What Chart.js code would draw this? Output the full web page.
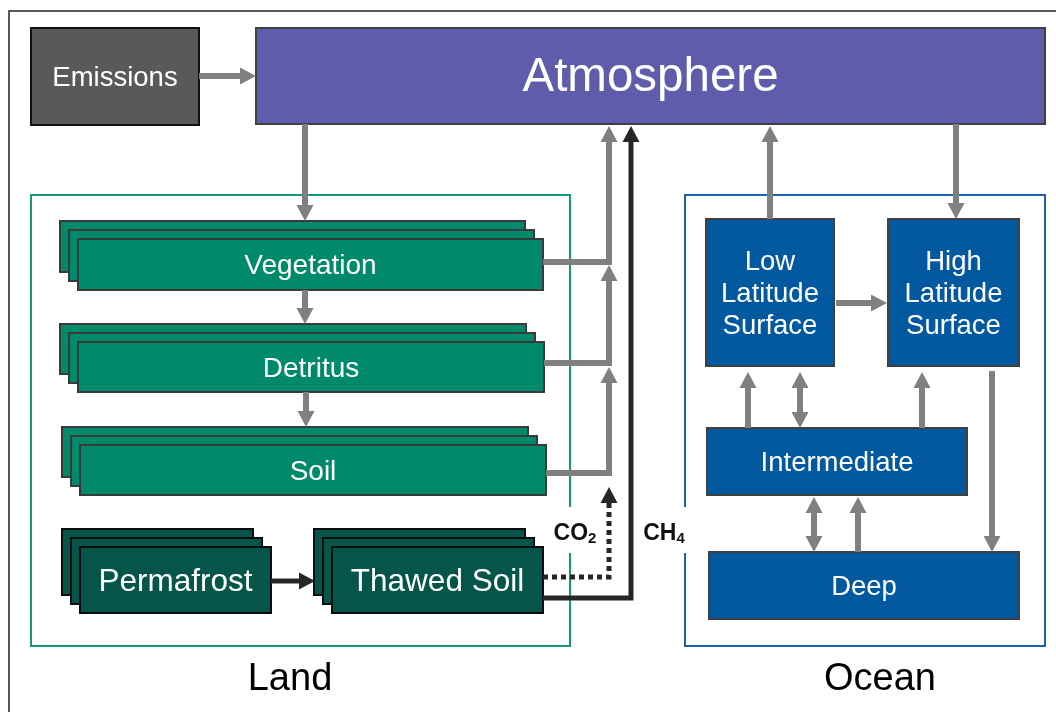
<!DOCTYPE html>
<html>
<head>
<meta charset="utf-8">
<script src="https://cdn.jsdelivr.net/npm/chart.js@4/dist/chart.umd.min.js"></script>
<style>
  body { margin: 0; background: #fff; }
  canvas { display: block; }
</style>
</head>
<body>
<canvas id="c1" width="1056" height="712"></canvas>
<script>
// boxes of the carbon cycle model, in diagram units (x right, y down)
var nodeNames = ["Emissions", "Atmosphere", "Vegetation", "Detritus", "Soil", "Permafrost", "Thawed Soil",
                 "Low\nLatitude\nSurface", "High\nLatitude\nSurface", "Intermediate", "Deep"];
var nodeKind = ["source", "atm", "land", "land", "land", "frost", "frost", "ocean", "ocean", "ocean", "ocean"];
var nodeLeft = [31, 256, 78, 78, 80, 80, 332, 706, 888, 707, 709];
var nodeTop = [28, 28, 239, 342, 445, 547, 547, 219, 219, 428, 552];
var nodeRight = [199, 1045, 543, 544, 546, 271, 543, 834, 1019, 967, 1019];
var nodeBottom = [125, 124, 290, 392, 495, 613, 613, 366, 366, 495, 619];
var nodeLayers = [1, 1, 3, 3, 3, 3, 3, 1, 1, 1, 1];

// land / ocean groups
var groupNames = ["Land", "Ocean"];
var groupLeft = [31, 685];
var groupTop = [195, 195];
var groupRight = [570, 1045];
var groupBottom = [646, 646];
var groupLabelX = [290, 880];
var groupLabelY = [680, 680];

// fluxes between boxes
var flowPaths = [
    [[199, 76], [256, 76]],
    [[305, 124], [305, 221]],
    [[305, 290], [305, 324]],
    [[306, 392], [306, 427]],
    [[543, 262], [609, 262], [609, 126]],
    [[544, 363], [609, 363], [609, 265]],
    [[546, 473], [609, 473], [609, 367]],
    [[543, 577], [609, 577], [609, 487]],
    [[543, 598], [631, 598], [631, 126]],
    [[271, 581], [315, 581]],
    [[770, 219], [770, 126]],
    [[956, 124], [956, 219]],
    [[836, 303], [887, 303]],
    [[748, 428], [748, 372]],
    [[800, 428], [800, 372]],
    [[922, 428], [922, 372]],
    [[992, 371], [992, 552]],
    [[814, 497], [814, 552]],
    [[858, 552], [858, 497]]
];
var flowKind = ["gray", "gray", "gray", "gray", "gray", "gray", "gray", "dotted", "black", "black",
                "gray", "gray", "gray", "gray", "gray", "gray", "gray", "gray", "gray"];
var flowHeads = ["end", "end", "end", "end", "end", "end", "end", "end", "end", "end",
                 "end", "end", "end", "end", "both", "end", "end", "both", "end"];

// gas labels
var gasNames = ["CO", "CH"];
var gasSub = ["2", "4"];
var gasX = [575, 664];
var gasY = [532, 532];

var fillOf = {source: "#595959", atm: "#5f5cab", land: "#008a6c", frost: "#06554a", ocean: "#03599f"};
var edgeOf = {source: "#111111", atm: "#404040", land: "#3a3a3a", frost: "#0d0d0d", ocean: "#404040"};
var fontOf = {source: 27.5, atm: 47.5, land: 28, frost: 31.5, ocean: 27.5};
var groupColors = ["#139a7d", "#1a62ad"];
var FONT = "'Liberation Sans', Arial, sans-serif";

function centers() {
    let pts = [];
    for(let i=0; i<nodeNames.length; i++)
        pts.push({x: (nodeLeft[i] + nodeRight[i]) / 2, y: (nodeTop[i] + nodeBottom[i]) / 2});
    return pts;
}

var diagram = {
    id: 'diagram',
    beforeDraw(chart) {
        let ctx = chart.ctx;
        ctx.save();
        ctx.fillStyle = "#ffffff";
        ctx.fillRect(0, 0, chart.width, chart.height);
        ctx.restore();
    },
    afterDatasetsDraw(chart) {
        let ctx = chart.ctx;
        let sx = chart.scales.x, sy = chart.scales.y;
        let px = (v) => sx.getPixelForValue(v);
        let py = (v) => sy.getPixelForValue(v);

        ctx.save();

        // outer frame
        ctx.strokeStyle = "#222222";
        ctx.lineWidth = 1.5;
        ctx.strokeRect(px(9), py(11), px(1070) - px(9), py(730) - py(11));

        // group frames
        for(let i=0; i<groupNames.length; i++) {
            ctx.strokeStyle = groupColors[i];
            ctx.lineWidth = 2;
            ctx.strokeRect(px(groupLeft[i]), py(groupTop[i]), px(groupRight[i]) - px(groupLeft[i]), py(groupBottom[i]) - py(groupTop[i]));

            ctx.fillStyle = "#000000";
            ctx.font = "38px " + FONT;
            ctx.textAlign = "center";
            ctx.textBaseline = "middle";
            ctx.fillText(groupNames[i], px(groupLabelX[i]), py(groupLabelY[i]));
        }

        // gas labels sit on a white patch that breaks the frames
        for(let i=0; i<gasNames.length; i++) {
            ctx.fillStyle = "#ffffff";
            ctx.fillRect(px(gasX[i] - 26), py(gasY[i] - 25), px(gasX[i] + 26) - px(gasX[i] - 26), py(gasY[i] + 21) - py(gasY[i] - 25));
        }

        // boxes
        for(let i=0; i<nodeNames.length; i++) {
            let kind = nodeKind[i];
            for(let k=nodeLayers[i]-1; k>=0; k--) {
                let off = k * 9;
                let l = px(nodeLeft[i] - off), t = py(nodeTop[i] - off);
                let w = px(nodeRight[i] - off) - l, h = py(nodeBottom[i] - off) - t;
                ctx.fillStyle = fillOf[kind];
                ctx.fillRect(l, t, w, h);
                ctx.strokeStyle = edgeOf[kind];
                ctx.lineWidth = 2;
                ctx.strokeRect(l, t, w, h);
            }
            let lines = nodeNames[i].split("\n");
            let fs = fontOf[kind];
            let lh = 32;
            let cx = px((nodeLeft[i] + nodeRight[i]) / 2);
            let cy = py((nodeTop[i] + nodeBottom[i]) / 2);
            ctx.fillStyle = "#ffffff";
            ctx.font = fs + "px " + FONT;
            ctx.textAlign = "center";
            ctx.textBaseline = "middle";
            for(let j=0; j<lines.length; j++)
                ctx.fillText(lines[j], cx, cy + (j - (lines.length - 1) / 2) * lh + 2);
        }

        // arrows
        for(let i=0; i<flowPaths.length; i++)
            drawFlow(ctx, flowPaths[i].map(p => [px(p[0]), py(p[1])]), flowKind[i], flowHeads[i]);

        // gas names with subscripts
        for(let i=0; i<gasNames.length; i++) {
            ctx.fillStyle = "#111111";
            ctx.textBaseline = "alphabetic";
            ctx.textAlign = "left";
            ctx.font = "bold 23px " + FONT;
            let w1 = ctx.measureText(gasNames[i]).width;
            ctx.font = "bold 15px " + FONT;
            let w2 = ctx.measureText(gasSub[i]).width;
            let x0 = px(gasX[i]) - (w1 + w2) / 2;
            let base = py(gasY[i]) + 8;
            ctx.font = "bold 23px " + FONT;
            ctx.fillText(gasNames[i], x0, base);
            ctx.font = "bold 15px " + FONT;
            ctx.fillText(gasSub[i], x0 + w1, base + 3);
        }

        ctx.restore();
    }
};

function drawHead(ctx, tip, from, color) {
    let dx = tip[0] - from[0], dy = tip[1] - from[1];
    let len = Math.hypot(dx, dy);
    let ux = dx / len, uy = dy / len;
    let hl = 16, hw = 8.5;
    ctx.fillStyle = color;
    ctx.beginPath();
    ctx.moveTo(tip[0], tip[1]);
    ctx.lineTo(tip[0] - ux * hl - uy * hw, tip[1] - uy * hl + ux * hw);
    ctx.lineTo(tip[0] - ux * hl + uy * hw, tip[1] - uy * hl - ux * hw);
    ctx.closePath();
    ctx.fill();
}

function shorten(a, b, d) {
    let dx = b[0] - a[0], dy = b[1] - a[1];
    let len = Math.hypot(dx, dy);
    return [b[0] - dx / len * d, b[1] - dy / len * d];
}

function drawFlow(ctx, pts, kind, heads) {
    let color = kind == "gray" ? "#808080" : "#262626";
    let width = kind == "gray" ? 6 : 5;
    let n = pts.length;
    let line = pts.slice();
    line[n-1] = shorten(pts[n-2], pts[n-1], 14);
    if(heads == "both")
        line[0] = shorten(pts[1], pts[0], 14);

    ctx.save();
    ctx.strokeStyle = color;
    ctx.lineWidth = width;
    ctx.lineJoin = "miter";
    ctx.lineCap = "butt";
    if(kind == "dotted")
        ctx.setLineDash([5, 4]);
    ctx.beginPath();
    ctx.moveTo(line[0][0], line[0][1]);
    for(let i=1; i<n; i++)
        ctx.lineTo(line[i][0], line[i][1]);
    ctx.stroke();
    ctx.restore();

    drawHead(ctx, pts[n-1], pts[n-2], color);
    if(heads == "both")
        drawHead(ctx, pts[0], pts[1], color);
}

var chart1 = new Chart(document.getElementById("c1"), {
    type: 'scatter',
    data: {
        datasets: [{
            label: 'boxes',
            data: centers(),
            pointRadius: 0
        }]
    },
    options: {
        responsive: false,
        animation: false,
        devicePixelRatio: 1,
        layout: { padding: 0 },
        scales: {
            x: { type: 'linear', min: 0, max: 1056, display: false },
            y: { type: 'linear', min: 0, max: 712, reverse: true, display: false }
        },
        plugins: {
            legend: { display: false },
            tooltip: { enabled: false }
        }
    },
    plugins: [diagram]
});
</script>
</body>
</html>
